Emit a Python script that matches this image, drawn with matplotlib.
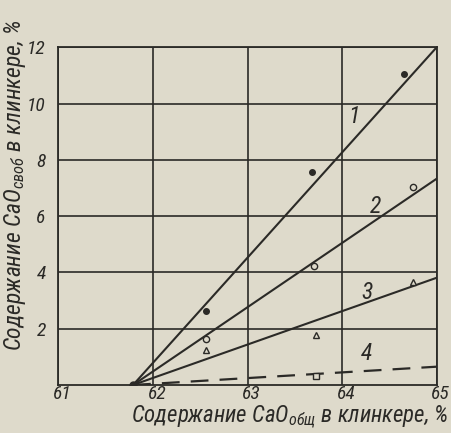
import matplotlib
matplotlib.use("Agg")
import matplotlib.pyplot as plt
from matplotlib import font_manager as fm
from matplotlib.transforms import ScaledTranslation

# ---- data ----
x_ticks = [61, 62, 63, 64, 65]
y_ticks = [2, 4, 6, 8, 10, 12]

x0 = 61.79  # common origin of the fitted lines
line_ends_x = [65, 65, 65, 65]
line_ends_y = [12.0, 7.33, 3.81, 0.65]
line_labels = ["1", "2", "3", "4"]
label_x = [64.13, 64.35, 64.26, 64.26]
label_y = [9.55, 6.34, 3.28, 1.13]

pts1_x = [62.56, 63.68, 64.65]
pts1_y = [2.62, 7.58, 11.05]
pts2_x = [62.56, 63.70, 64.75]
pts2_y = [1.63, 4.24, 7.02]
pts3_x = [62.56, 63.72, 64.75]
pts3_y = [1.24, 1.78, 3.67]
pts4_x = [63.72]
pts4_y = [0.33]

xlabel = "Содержание CaO$_{\\mathregular{общ}}$ в клинкере, %"
ylabel = "Содержание CaO$_{\\mathregular{своб}}$ в клинкере, %"

# ---- style ----
names = {f.name for f in fm.fontManager.ttflist}
fam = 'DejaVu Sans'
for cand in ["Liberation Sans Narrow", "DejaVu Sans Condensed", "Roboto Condensed",
             "Open Sans Condensed"]:
    if cand in names:
        fam = cand
        break
plt.rcParams['font.family'] = [fam, 'DejaVu Sans']
plt.rcParams['font.style'] = 'italic'
plt.rcParams['font.stretch'] = 'condensed'
plt.rcParams['mathtext.default'] = 'regular'

bg = "#dedacb"
ink = "#2b2a27"

fig = plt.figure(figsize=(4.51, 4.33), dpi=100, facecolor=bg)
ax = fig.add_axes([0.1293, 0.1109, 0.839, 0.780], facecolor=bg)

ax.set_xlim(61, 65)
ax.set_ylim(0, 12)
ax.set_xticks(x_ticks)
ax.set_yticks(y_ticks)
ax.set_xticklabels([str(t) for t in x_ticks], fontsize=14, style='italic', color=ink)
ax.set_yticklabels([str(t) for t in y_ticks], fontsize=14, style='italic', color=ink)
ax.tick_params(axis='x', length=0, pad=0)
ax.tick_params(axis='y', length=0, pad=9)
shift = ScaledTranslation(4 / 100, 0, fig.dpi_scale_trans)
for lab in ax.get_xticklabels():
    lab.set_transform(lab.get_transform() + shift)
ax.grid(True, color=ink, linewidth=1.2)
for s in ax.spines.values():
    s.set_color(ink)
    s.set_linewidth(1.3)

for i in range(4):
    if i == 3:
        ax.plot([x0, line_ends_x[i]], [0, line_ends_y[i]], color=ink, lw=1.6,
                ls=(0, (8, 5)), zorder=3)
    else:
        ax.plot([x0, line_ends_x[i]], [0, line_ends_y[i]], color=ink, lw=1.5, zorder=3)
    ax.text(label_x[i], label_y[i], line_labels[i], fontsize=17, style='italic',
            color=ink, ha='center', va='center')

ax.plot([x0], [0], 'o', color=ink, ms=5, zorder=4)
ax.plot(pts1_x, pts1_y, 'o', color=ink, ms=4, ls='none', zorder=4)
ax.plot(pts2_x, pts2_y, 'o', mfc=bg, mec=ink, ms=4.5, ls='none', zorder=4)
ax.plot(pts3_x, pts3_y, '^', mfc=bg, mec=ink, ms=5, ls='none', zorder=4)
ax.plot(pts4_x, pts4_y, 's', mfc=bg, mec=ink, ms=5, ls='none', zorder=4)

fig.text(0.993, 0.036, xlabel, fontsize=16.5, style='italic', color=ink,
         ha='right', va='center')
fig.text(0.033, 0.573, ylabel, fontsize=17, style='italic', color=ink,
         ha='center', va='center', rotation=90)

fig.savefig("out.png", dpi=100, facecolor=bg)
